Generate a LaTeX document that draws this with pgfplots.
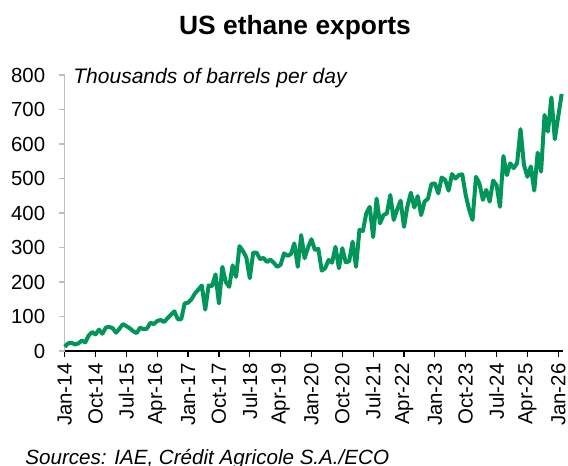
\documentclass[border=0pt]{standalone}
\usepackage{pgfplots}
\pgfplotsset{compat=1.18}
\usepackage{pgfplotstable}
\usepackage{fontspec}
\setmainfont{Liberation Sans}
\definecolor{cagreen}{RGB}{0,150,90}
\definecolor{axgray}{RGB}{190,190,190}
\pgfplotstableread{
m v
0 12
1 22
2 24
3 19
4 22
5 30
6 25
7 45
8 55
9 48
10 62
11 50
12 68
13 70
14 66
15 53
16 65
17 78
18 72
19 66
20 57
21 52
22 68
23 63
24 65
25 82
26 78
27 87
28 90
29 84
30 95
31 105
32 115
33 92
34 92
35 138
36 140
37 150
38 167
39 178
40 190
41 120
42 190
43 188
44 222
45 138
46 244
47 200
48 186
49 248
50 215
51 304
52 290
53 271
54 211
55 285
56 285
57 266
58 270
59 258
60 265
61 256
62 244
63 250
64 283
65 276
66 281
67 312
68 244
69 336
70 269
71 300
72 324
73 293
74 296
75 233
76 240
77 264
78 256
79 302
80 240
81 298
82 257
83 260
84 317
85 244
86 351
87 348
88 399
89 418
90 330
91 442
92 370
93 394
94 399
95 452
96 380
97 410
98 436
99 360
100 420
101 459
102 416
103 449
104 394
105 433
106 442
107 484
108 486
109 457
110 503
111 496
112 465
113 513
114 500
115 510
116 512
117 452
118 410
119 380
120 505
121 486
122 438
123 467
124 433
125 494
126 481
127 418
128 565
129 510
130 544
131 530
132 545
133 643
134 539
135 505
136 535
137 465
138 575
139 520
140 684
141 636
142 735
143 614
144 680
145 745
}\exports
\begin{document}
\begin{tikzpicture}
\useasboundingbox (0,0) rectangle (284pt,-233pt);
\begin{axis}[
  at={(32.35pt,-175.5pt)}, anchor=south west,
  scale only axis, width=249pt, height=138pt,
  xmin=0, xmax=145.3, ymin=0, ymax=800,
  axis x line*=bottom, axis y line*=left,
  x axis line style={black, line width=0.6pt, -},
  y axis line style={axgray, line width=0.6pt, -},
  xtick={0,9,...,144},
  xticklabels={Jan-14,Oct-14,Jul-15,Apr-16,Jan-17,Oct-17,Jul-18,Apr-19,Jan-20,Oct-20,Jul-21,Apr-22,Jan-23,Oct-23,Jul-24,Apr-25,Jan-26},
  ytick={0,100,...,800},
  tick align=outside,
  major tick length=2.75pt,
  x tick style={black, line width=0.6pt},
  y tick style={axgray, line width=0.6pt},
  tick label style={font=\fontsize{10.2}{12}\selectfont},
  xticklabel style={rotate=90, anchor=east},
  yticklabel style={xshift=-3.5pt},
  /pgf/number format/assume math mode=true,
  clip=false,
]
\addplot[cagreen, line width=2pt, line join=round] table[x=m, y=v] {\exports};
\end{axis}
\node[font=\fontsize{13.2}{15}\selectfont\bfseries] at (147.5pt,-14pt) {US ethane exports};
\node[anchor=west, font=\fontsize{10.5}{12}\selectfont\itshape, inner sep=0pt] at (36.5pt,-39pt) {Thousands of barrels per day};
\node[anchor=base west, font=\fontsize{10.3}{12}\selectfont\itshape, inner sep=0pt] at (12.5pt,-232pt) {Sources: IAE, Crédit Agricole S.A./ECO};
\end{tikzpicture}
\end{document}
